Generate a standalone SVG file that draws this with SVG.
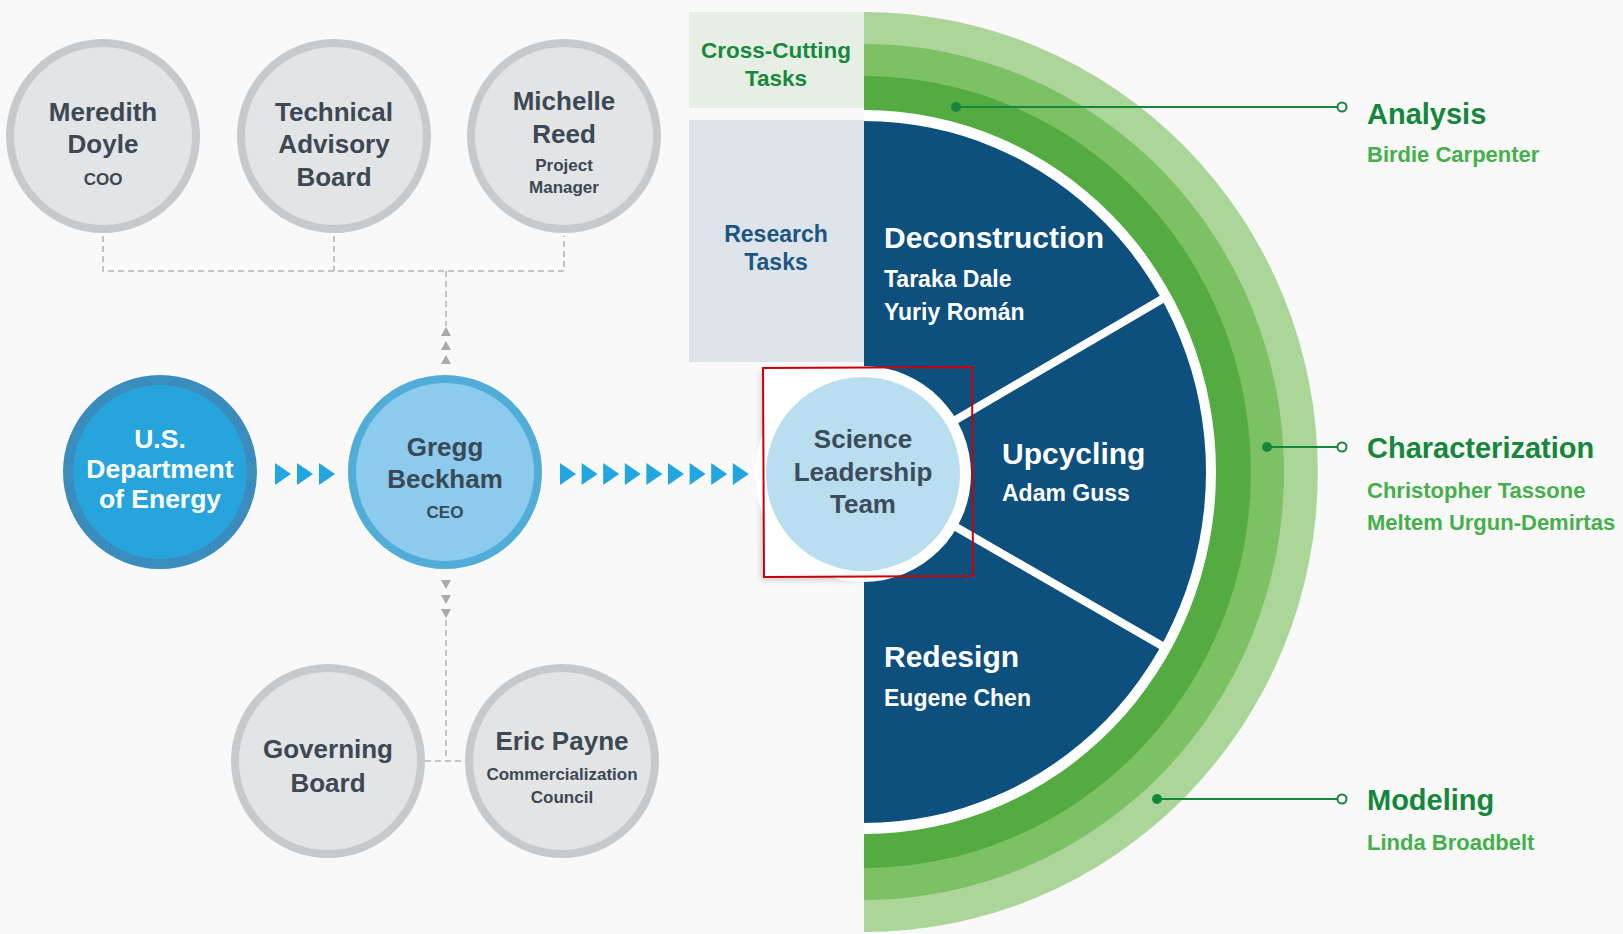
<svg xmlns="http://www.w3.org/2000/svg" width="1623" height="934" viewBox="0 0 1623 934">
<defs>
<style>
text{font-family:"Liberation Sans",Arial,sans-serif;font-weight:bold}
.gc{fill:#e2e4e6;stroke:#c7cacd;stroke-width:8}
.gt{fill:#3c4853;font-size:26px;text-anchor:middle}
.gs{fill:#3c4853;font-size:17px;text-anchor:middle}
.dash{fill:none;stroke:#b3b7bb;stroke-width:1.6;stroke-dasharray:6 4}
.chev{fill:#22a6df}
.tri{fill:#a6aaae}
.seg{fill:#ffffff;font-size:30px}
.segn{fill:#ffffff;font-size:23px}
.lbl{fill:#14873a;font-size:29px}
.lbln{fill:#45b04b;font-size:22px}
.lead{stroke:#14873a;stroke-width:2}
.dot{fill:#14873a}
.ring{fill:#ffffff;stroke:#14873a;stroke-width:2}
.div{stroke:#ffffff;stroke-width:8}
</style>
<path id="chev" d="M0 -11 L16 0 L0 11 Z"/>
<path id="up" d="M0 -5 L5 4 L-5 4 Z"/>
<path id="down" d="M0 5 L5 -4 L-5 -4 Z"/>
<filter id="sh" x="-10%" y="-10%" width="130%" height="130%"><feDropShadow dx="-2" dy="4" stdDeviation="3" flood-color="#000000" flood-opacity="0.18"/></filter>
</defs>
<rect x="0" y="0" width="1623" height="934" fill="#f9f9f9"/>

<g id="cross-cutting-tasks">
<rect x="689" y="12" width="175" height="96" fill="#e7efe5"/>
<text x="776" y="58" fill="#16893c" font-size="22.5" text-anchor="middle">Cross-Cutting</text>
<text x="776" y="86" fill="#16893c" font-size="22.5" text-anchor="middle">Tasks</text>
</g>
<g id="research-tasks">
<rect x="689" y="120" width="175" height="242" fill="#dee4ea"/>
<text x="776" y="242" fill="#1b5683" font-size="23" text-anchor="middle">Research</text>
<text x="776" y="270" fill="#1b5683" font-size="23" text-anchor="middle">Tasks</text>
</g>

<rect x="763" y="368" width="209" height="208" fill="#ffffff" filter="url(#sh)"/>

<g id="rings">
<path d="M864 12 A454 460 0 0 1 864 932 Z" fill="#acd699"/>
<path d="M864 44 A420 428 0 0 1 864 900 Z" fill="#7cc163"/>
<path d="M864 76 A387 396 0 0 1 864 868 Z" fill="#53ab41"/>
<path d="M864 110 A352 362 0 0 1 864 834 Z" fill="#ffffff"/>
</g>
<g id="research-wheel">
<path d="M864 121 A342 351 0 0 1 864 823 Z" fill="#0e507d"/>
<line class="div" x1="930" y1="435" x2="1164" y2="298"/>
<line class="div" x1="930" y1="512" x2="1164" y2="647"/>
</g>

<g id="deconstruction">
<text class="seg" x="884" y="248">Deconstruction</text>
<text class="segn" x="884" y="287">Taraka Dale</text>
<text class="segn" x="884" y="320">Yuriy Román</text>
</g>
<g id="upcycling">
<text class="seg" x="1002" y="464">Upcycling</text>
<text class="segn" x="1002" y="501">Adam Guss</text>
</g>
<g id="redesign">
<text class="seg" x="884" y="667">Redesign</text>
<text class="segn" x="884" y="706">Eugene Chen</text>
</g>

<g id="science-leadership-team">
<circle cx="863" cy="474" r="108" fill="#ffffff"/>
<circle cx="863" cy="474" r="97" fill="#b8def0"/>
<text x="863" y="448" fill="#3d4c5a" font-size="26" text-anchor="middle">Science</text>
<text x="863" y="481" fill="#3d4c5a" font-size="26" text-anchor="middle">Leadership</text>
<text x="863" y="513" fill="#3d4c5a" font-size="26" text-anchor="middle">Team</text>
<path d="M763 368 L972 367 L973 576 L764 577 Z" fill="none" stroke="#c8000a" stroke-width="2"/>
</g>

<g id="connectors">
<path class="dash" d="M103 236 V271 H564 V236 M334 236 V271 M446 271 V326"/>
<use href="#up" class="tri" x="446" y="332"/>
<use href="#up" class="tri" x="446" y="346"/>
<use href="#up" class="tri" x="446" y="360"/>
<use href="#down" class="tri" x="446" y="584"/>
<use href="#down" class="tri" x="446" y="599"/>
<use href="#down" class="tri" x="446" y="613"/>
<path class="dash" d="M446 620 V761 M425 761 H465"/>
<use href="#chev" class="chev" x="275" y="474"/>
<use href="#chev" class="chev" x="297" y="474"/>
<use href="#chev" class="chev" x="319" y="474"/>
<use href="#chev" class="chev" x="560" y="474"/>
<use href="#chev" class="chev" x="581.6" y="474"/>
<use href="#chev" class="chev" x="603.2" y="474"/>
<use href="#chev" class="chev" x="624.8" y="474"/>
<use href="#chev" class="chev" x="646.4" y="474"/>
<use href="#chev" class="chev" x="668" y="474"/>
<use href="#chev" class="chev" x="689.6" y="474"/>
<use href="#chev" class="chev" x="711.2" y="474"/>
<use href="#chev" class="chev" x="732.8" y="474"/>
<line class="lead" x1="956" y1="107" x2="1337" y2="107"/>
<circle class="dot" cx="956" cy="107" r="5"/>
<circle class="ring" cx="1342" cy="107" r="4.5"/>
<line class="lead" x1="1267" y1="447" x2="1337" y2="447"/>
<circle class="dot" cx="1267" cy="447" r="5"/>
<circle class="ring" cx="1342" cy="447" r="4.5"/>
<line class="lead" x1="1157" y1="799" x2="1337" y2="799"/>
<circle class="dot" cx="1157" cy="799" r="5"/>
<circle class="ring" cx="1342" cy="799" r="4.5"/>
</g>

<g id="meredith-doyle">
<circle class="gc" cx="103" cy="136" r="93"/>
<text class="gt" x="103" y="121">Meredith</text>
<text class="gt" x="103" y="153">Doyle</text>
<text class="gs" x="103" y="185">COO</text>
</g>
<g id="technical-advisory-board">
<circle class="gc" cx="334" cy="136" r="93"/>
<text class="gt" x="334" y="121">Technical</text>
<text class="gt" x="334" y="153">Advisory</text>
<text class="gt" x="334" y="186">Board</text>
</g>
<g id="michelle-reed">
<circle class="gc" cx="564" cy="136" r="93"/>
<text class="gt" x="564" y="110">Michelle</text>
<text class="gt" x="564" y="143">Reed</text>
<text class="gs" x="564" y="171">Project</text>
<text class="gs" x="564" y="193">Manager</text>
</g>
<g id="us-department-of-energy">
<circle cx="160" cy="472" r="92" fill="#28a4dc" stroke="#3a8cbc" stroke-width="10"/>
<text x="160" y="448" fill="#ffffff" font-size="26.5" text-anchor="middle">U.S.</text>
<text x="160" y="478" fill="#ffffff" font-size="26.5" text-anchor="middle">Department</text>
<text x="160" y="508" fill="#ffffff" font-size="26.5" text-anchor="middle">of Energy</text>
</g>
<g id="gregg-beckham">
<circle cx="445" cy="472" r="93" fill="#8ccbee" stroke="#52acd8" stroke-width="8"/>
<text class="gt" x="445" y="456">Gregg</text>
<text class="gt" x="445" y="488">Beckham</text>
<text class="gs" x="445" y="518">CEO</text>
</g>
<g id="governing-board">
<circle class="gc" cx="328" cy="761" r="93"/>
<text class="gt" x="328" y="758">Governing</text>
<text class="gt" x="328" y="792">Board</text>
</g>
<g id="eric-payne">
<circle class="gc" cx="562" cy="761" r="93"/>
<text class="gt" x="562" y="750">Eric Payne</text>
<text class="gs" x="562" y="780">Commercialization</text>
<text class="gs" x="562" y="803">Council</text>
</g>

<g id="analysis">
<text class="lbl" x="1367" y="124">Analysis</text>
<text class="lbln" x="1367" y="162">Birdie Carpenter</text>
</g>
<g id="characterization">
<text class="lbl" x="1367" y="458">Characterization</text>
<text class="lbln" x="1367" y="498">Christopher Tassone</text>
<text class="lbln" x="1367" y="530">Meltem Urgun-Demirtas</text>
</g>
<g id="modeling">
<text class="lbl" x="1367" y="810">Modeling</text>
<text class="lbln" x="1367" y="850">Linda Broadbelt</text>
</g>
</svg>
